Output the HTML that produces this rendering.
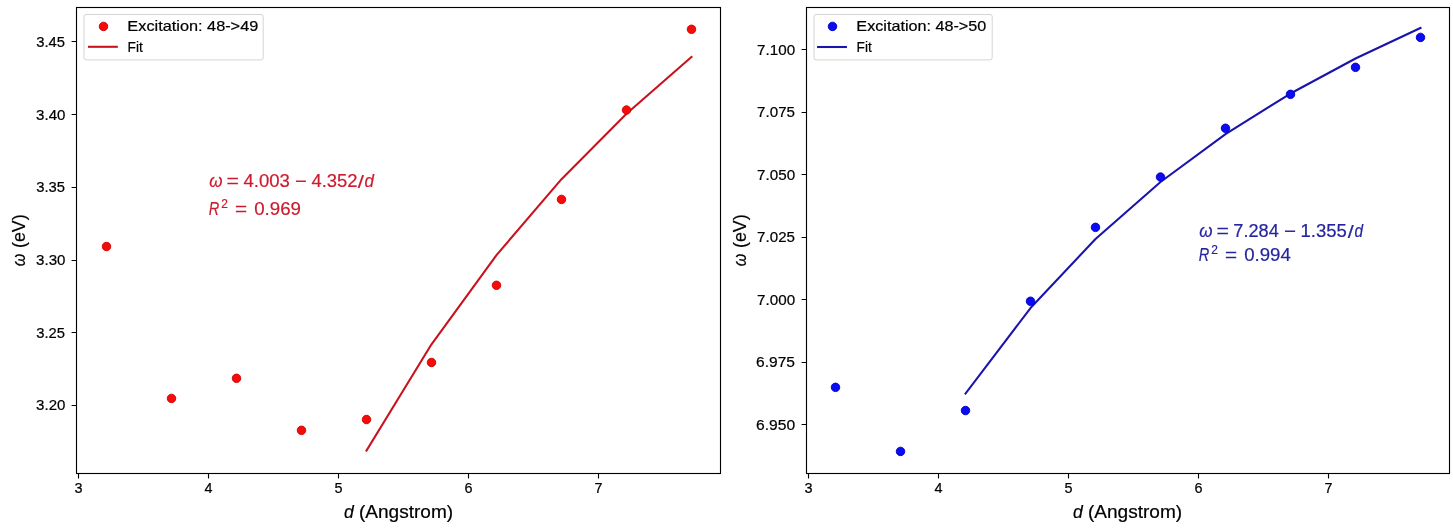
<!DOCTYPE html>
<html><head><meta charset="utf-8"><title>Excitation fits</title>
<style>
html,body{margin:0;padding:0;background:#fff;}
svg{display:block;will-change:transform;}
text{font-family:"Liberation Sans", sans-serif;}
</style></head><body>
<svg width="1453" height="528" viewBox="0 0 1453 528">
<rect width="1453" height="528" fill="#fff"/>
<rect x="76.5" y="7.5" width="644.0" height="466.0" fill="none" stroke="#000" stroke-width="1.11"/>
<rect x="806.5" y="7.5" width="643.0" height="466.0" fill="none" stroke="#000" stroke-width="1.11"/>
<path d="M78.5 473.5V478.4M808.5 473.5V478.4M208.5 473.5V478.4M938.5 473.5V478.4M338.5 473.5V478.4M1068.5 473.5V478.4M468.5 473.5V478.4M1198.5 473.5V478.4M598.5 473.5V478.4M1328.5 473.5V478.4M71.6 405.5H76.5M71.6 332.5H76.5M71.6 260.5H76.5M71.6 187.5H76.5M71.6 114.5H76.5M71.6 41.5H76.5M801.6 424.5H806.5M801.6 362.5H806.5M801.6 299.5H806.5M801.6 237.5H806.5M801.6 174.5H806.5M801.6 112.5H806.5M801.6 49.5H806.5" stroke="#000" stroke-width="1.11" fill="none"/>
<polyline points="366.50,450.59 431.50,344.28 496.50,255.08 561.50,179.17 626.50,113.77 691.50,56.86" fill="none" stroke="#c8121e" stroke-width="2.08" stroke-linejoin="round" stroke-linecap="square"/>
<polyline points="965.50,393.57 1030.50,308.07 1095.50,238.98 1160.50,182.00 1225.50,134.19 1290.50,93.52 1355.50,58.48 1420.50,28.00" fill="none" stroke="#1a14aa" stroke-width="2.08" stroke-linejoin="round" stroke-linecap="square"/>
<circle cx="106.5" cy="246.5" r="4.25" fill="#f70a0a" stroke="#d00000" stroke-width="0.9"/>
<circle cx="171.5" cy="398.4" r="4.25" fill="#f70a0a" stroke="#d00000" stroke-width="0.9"/>
<circle cx="236.5" cy="378.3" r="4.25" fill="#f70a0a" stroke="#d00000" stroke-width="0.9"/>
<circle cx="301.5" cy="430.35" r="4.25" fill="#f70a0a" stroke="#d00000" stroke-width="0.9"/>
<circle cx="366.5" cy="419.5" r="4.25" fill="#f70a0a" stroke="#d00000" stroke-width="0.9"/>
<circle cx="431.5" cy="362.45" r="4.25" fill="#f70a0a" stroke="#d00000" stroke-width="0.9"/>
<circle cx="496.5" cy="285.3" r="4.25" fill="#f70a0a" stroke="#d00000" stroke-width="0.9"/>
<circle cx="561.5" cy="199.4" r="4.25" fill="#f70a0a" stroke="#d00000" stroke-width="0.9"/>
<circle cx="626.5" cy="110.05" r="4.25" fill="#f70a0a" stroke="#d00000" stroke-width="0.9"/>
<circle cx="691.5" cy="29.3" r="4.25" fill="#f70a0a" stroke="#d00000" stroke-width="0.9"/>
<circle cx="835.5" cy="387.35" r="4.25" fill="#0a0af5" stroke="#0000c0" stroke-width="0.9"/>
<circle cx="900.5" cy="451.4" r="4.25" fill="#0a0af5" stroke="#0000c0" stroke-width="0.9"/>
<circle cx="965.5" cy="410.55" r="4.25" fill="#0a0af5" stroke="#0000c0" stroke-width="0.9"/>
<circle cx="1030.5" cy="301.25" r="4.25" fill="#0a0af5" stroke="#0000c0" stroke-width="0.9"/>
<circle cx="1095.5" cy="227.35" r="4.25" fill="#0a0af5" stroke="#0000c0" stroke-width="0.9"/>
<circle cx="1160.5" cy="177.05" r="4.25" fill="#0a0af5" stroke="#0000c0" stroke-width="0.9"/>
<circle cx="1225.5" cy="128.25" r="4.25" fill="#0a0af5" stroke="#0000c0" stroke-width="0.9"/>
<circle cx="1290.5" cy="94.35" r="4.25" fill="#0a0af5" stroke="#0000c0" stroke-width="0.9"/>
<circle cx="1355.5" cy="67.35" r="4.25" fill="#0a0af5" stroke="#0000c0" stroke-width="0.9"/>
<circle cx="1420.5" cy="37.4" r="4.25" fill="#0a0af5" stroke="#0000c0" stroke-width="0.9"/>
<rect x="84.0" y="14.5" width="179.2" height="45.4" rx="2.2" ry="2.2" fill="#fff" fill-opacity="0.8" stroke="#d4d4d4" stroke-width="1"/><circle cx="103.5" cy="26.4" r="4.25" fill="#f70a0a" stroke="#d00000" stroke-width="0.9"/><path d="M89.0 46.8H116.8" stroke="#c8121e" stroke-width="2.08" stroke-linecap="square"/>
<rect x="814.0" y="14.5" width="178.20000000000005" height="45.4" rx="2.2" ry="2.2" fill="#fff" fill-opacity="0.8" stroke="#d4d4d4" stroke-width="1"/><circle cx="832.5" cy="26.4" r="4.25" fill="#0a0af5" stroke="#0000c0" stroke-width="0.9"/><path d="M818.1 47.0H845.9" stroke="#1a14aa" stroke-width="2.08" stroke-linecap="square"/>
<text x="36.14" y="410.00" font-size="14.4" textLength="29.34" lengthAdjust="spacingAndGlyphs" fill="#000" stroke="#000" stroke-width="0.2">3.20</text>
<text x="36.16" y="338.00" font-size="14.4" textLength="28.80" lengthAdjust="spacingAndGlyphs" fill="#000" stroke="#000" stroke-width="0.2">3.25</text>
<text x="36.14" y="265.00" font-size="14.4" textLength="29.34" lengthAdjust="spacingAndGlyphs" fill="#000" stroke="#000" stroke-width="0.2">3.30</text>
<text x="36.16" y="192.00" font-size="14.4" textLength="28.80" lengthAdjust="spacingAndGlyphs" fill="#000" stroke="#000" stroke-width="0.2">3.35</text>
<text x="36.14" y="120.00" font-size="14.4" textLength="29.34" lengthAdjust="spacingAndGlyphs" fill="#000" stroke="#000" stroke-width="0.2">3.40</text>
<text x="36.16" y="47.00" font-size="14.4" textLength="28.80" lengthAdjust="spacingAndGlyphs" fill="#000" stroke="#000" stroke-width="0.2">3.45</text>
<text x="756.09" y="430.00" font-size="14.4" textLength="39.07" lengthAdjust="spacingAndGlyphs" fill="#000" stroke="#000" stroke-width="0.2">6.950</text>
<text x="756.10" y="367.00" font-size="14.4" textLength="38.89" lengthAdjust="spacingAndGlyphs" fill="#000" stroke="#000" stroke-width="0.2">6.975</text>
<text x="757.13" y="305.00" font-size="14.4" textLength="38.02" lengthAdjust="spacingAndGlyphs" fill="#000" stroke="#000" stroke-width="0.2">7.000</text>
<text x="757.13" y="242.00" font-size="14.4" textLength="37.84" lengthAdjust="spacingAndGlyphs" fill="#000" stroke="#000" stroke-width="0.2">7.025</text>
<text x="757.13" y="180.00" font-size="14.4" textLength="38.02" lengthAdjust="spacingAndGlyphs" fill="#000" stroke="#000" stroke-width="0.2">7.050</text>
<text x="757.13" y="117.00" font-size="14.4" textLength="37.84" lengthAdjust="spacingAndGlyphs" fill="#000" stroke="#000" stroke-width="0.2">7.075</text>
<text x="757.13" y="55.00" font-size="14.4" textLength="38.02" lengthAdjust="spacingAndGlyphs" fill="#000" stroke="#000" stroke-width="0.2">7.100</text>
<text x="78.50" y="492.90" font-size="14.4" text-anchor="middle" fill="#000" stroke="#000" stroke-width="0.2">3</text>
<text x="808.50" y="492.90" font-size="14.4" text-anchor="middle" fill="#000" stroke="#000" stroke-width="0.2">3</text>
<text x="208.50" y="492.90" font-size="14.4" text-anchor="middle" fill="#000" stroke="#000" stroke-width="0.2">4</text>
<text x="938.50" y="492.90" font-size="14.4" text-anchor="middle" fill="#000" stroke="#000" stroke-width="0.2">4</text>
<text x="338.50" y="492.90" font-size="14.4" text-anchor="middle" fill="#000" stroke="#000" stroke-width="0.2">5</text>
<text x="1068.50" y="492.90" font-size="14.4" text-anchor="middle" fill="#000" stroke="#000" stroke-width="0.2">5</text>
<text x="468.50" y="492.90" font-size="14.4" text-anchor="middle" fill="#000" stroke="#000" stroke-width="0.2">6</text>
<text x="1198.50" y="492.90" font-size="14.4" text-anchor="middle" fill="#000" stroke="#000" stroke-width="0.2">6</text>
<text x="598.50" y="492.90" font-size="14.4" text-anchor="middle" fill="#000" stroke="#000" stroke-width="0.2">7</text>
<text x="1328.50" y="492.90" font-size="14.4" text-anchor="middle" fill="#000" stroke="#000" stroke-width="0.2">7</text>
<text x="344.06" y="517.90" font-size="18.2" font-style="italic" textLength="9.80" lengthAdjust="spacingAndGlyphs" fill="#000" stroke="#000" stroke-width="0.2">d</text>
<text x="358.92" y="517.90" font-size="18.2" textLength="94.26" lengthAdjust="spacingAndGlyphs" fill="#000" stroke="#000" stroke-width="0.2">(Angstrom)</text>
<text x="1073.06" y="517.90" font-size="18.2" font-style="italic" textLength="9.80" lengthAdjust="spacingAndGlyphs" fill="#000" stroke="#000" stroke-width="0.2">d</text>
<text x="1087.92" y="517.90" font-size="18.2" textLength="94.26" lengthAdjust="spacingAndGlyphs" fill="#000" stroke="#000" stroke-width="0.2">(Angstrom)</text>
<text transform="translate(24.80,266.18) rotate(-90)" x="0" y="0" font-size="18.2" font-style="italic" textLength="12.47" lengthAdjust="spacingAndGlyphs" fill="#000" stroke="#000" stroke-width="0.2">ω</text>
<text transform="translate(24.80,247.99) rotate(-90)" x="0" y="0" font-size="18.2" textLength="33.66" lengthAdjust="spacingAndGlyphs" fill="#000" stroke="#000" stroke-width="0.2">(eV)</text>
<text transform="translate(745.60,266.18) rotate(-90)" x="0" y="0" font-size="18.2" font-style="italic" textLength="12.47" lengthAdjust="spacingAndGlyphs" fill="#000" stroke="#000" stroke-width="0.2">ω</text>
<text transform="translate(745.60,247.99) rotate(-90)" x="0" y="0" font-size="18.2" textLength="33.66" lengthAdjust="spacingAndGlyphs" fill="#000" stroke="#000" stroke-width="0.2">(eV)</text>
<text x="127.37" y="30.80" font-size="14.4" textLength="130.92" lengthAdjust="spacingAndGlyphs" fill="#000" stroke="#000" stroke-width="0.2">Excitation: 48-&gt;49</text>
<text x="127.60" y="51.80" font-size="14.4" textLength="15.21" lengthAdjust="spacingAndGlyphs" fill="#000" stroke="#000" stroke-width="0.2">Fit</text>
<text x="856.38" y="30.80" font-size="14.4" textLength="129.95" lengthAdjust="spacingAndGlyphs" fill="#000" stroke="#000" stroke-width="0.2">Excitation: 48-&gt;50</text>
<text x="856.60" y="51.80" font-size="14.4" textLength="15.21" lengthAdjust="spacingAndGlyphs" fill="#000" stroke="#000" stroke-width="0.2">Fit</text>
<text x="209.19" y="186.90" font-size="17.6" font-style="italic" textLength="13.25" lengthAdjust="spacingAndGlyphs" fill="#cc1a2e" stroke="#cc1a2e" stroke-width="0.2">ω</text>
<text x="226.52" y="186.90" font-size="17.6" textLength="12.44" lengthAdjust="spacingAndGlyphs" fill="#cc1a2e" stroke="#cc1a2e" stroke-width="0.2">=</text>
<text x="243.43" y="186.90" font-size="17.6" textLength="46.41" lengthAdjust="spacingAndGlyphs" fill="#cc1a2e" stroke="#cc1a2e" stroke-width="0.2">4.003</text>
<text x="294.92" y="186.90" font-size="17.6" textLength="11.83" lengthAdjust="spacingAndGlyphs" fill="#cc1a2e" stroke="#cc1a2e" stroke-width="0.2">−</text>
<text x="311.53" y="186.90" font-size="17.6" textLength="46.04" lengthAdjust="spacingAndGlyphs" fill="#cc1a2e" stroke="#cc1a2e" stroke-width="0.2">4.352</text>
<text x="357.69" y="188.00" font-size="17.6" textLength="6.15" lengthAdjust="spacingAndGlyphs" fill="#cc1a2e" stroke="#cc1a2e" stroke-width="0.2">/</text>
<text x="364.59" y="186.90" font-size="17.6" font-style="italic" textLength="9.43" lengthAdjust="spacingAndGlyphs" fill="#cc1a2e" stroke="#cc1a2e" stroke-width="0.2">d</text>
<text x="208.76" y="214.60" font-size="17.6" font-style="italic" textLength="10.51" lengthAdjust="spacingAndGlyphs" fill="#cc1a2e" stroke="#cc1a2e" stroke-width="0.2">R</text>
<text x="221.36" y="208.00" font-size="12.4" textLength="6.66" lengthAdjust="spacingAndGlyphs" fill="#cc1a2e" stroke="#cc1a2e" stroke-width="0.2">2</text>
<text x="234.95" y="214.60" font-size="17.6" textLength="12.09" lengthAdjust="spacingAndGlyphs" fill="#cc1a2e" stroke="#cc1a2e" stroke-width="0.2">=</text>
<text x="254.24" y="214.60" font-size="17.6" textLength="46.73" lengthAdjust="spacingAndGlyphs" fill="#cc1a2e" stroke="#cc1a2e" stroke-width="0.2">0.969</text>
<text x="1199.19" y="236.90" font-size="17.6" font-style="italic" textLength="13.25" lengthAdjust="spacingAndGlyphs" fill="#24249e" stroke="#24249e" stroke-width="0.2">ω</text>
<text x="1216.52" y="236.90" font-size="17.6" textLength="12.44" lengthAdjust="spacingAndGlyphs" fill="#24249e" stroke="#24249e" stroke-width="0.2">=</text>
<text x="1233.34" y="236.90" font-size="17.6" textLength="45.50" lengthAdjust="spacingAndGlyphs" fill="#24249e" stroke="#24249e" stroke-width="0.2">7.284</text>
<text x="1283.91" y="236.90" font-size="17.6" textLength="11.95" lengthAdjust="spacingAndGlyphs" fill="#24249e" stroke="#24249e" stroke-width="0.2">−</text>
<text x="1300.54" y="236.90" font-size="17.6" textLength="46.26" lengthAdjust="spacingAndGlyphs" fill="#24249e" stroke="#24249e" stroke-width="0.2">1.355</text>
<text x="1347.70" y="238.00" font-size="17.6" textLength="5.94" lengthAdjust="spacingAndGlyphs" fill="#24249e" stroke="#24249e" stroke-width="0.2">/</text>
<text x="1354.45" y="236.90" font-size="17.6" font-style="italic" textLength="8.52" lengthAdjust="spacingAndGlyphs" fill="#24249e" stroke="#24249e" stroke-width="0.2">d</text>
<text x="1198.76" y="260.60" font-size="17.6" font-style="italic" textLength="10.51" lengthAdjust="spacingAndGlyphs" fill="#24249e" stroke="#24249e" stroke-width="0.2">R</text>
<text x="1211.36" y="254.00" font-size="12.4" textLength="6.66" lengthAdjust="spacingAndGlyphs" fill="#24249e" stroke="#24249e" stroke-width="0.2">2</text>
<text x="1224.95" y="260.60" font-size="17.6" textLength="12.09" lengthAdjust="spacingAndGlyphs" fill="#24249e" stroke="#24249e" stroke-width="0.2">=</text>
<text x="1244.24" y="260.60" font-size="17.6" textLength="46.60" lengthAdjust="spacingAndGlyphs" fill="#24249e" stroke="#24249e" stroke-width="0.2">0.994</text>
</svg>
</body></html>
